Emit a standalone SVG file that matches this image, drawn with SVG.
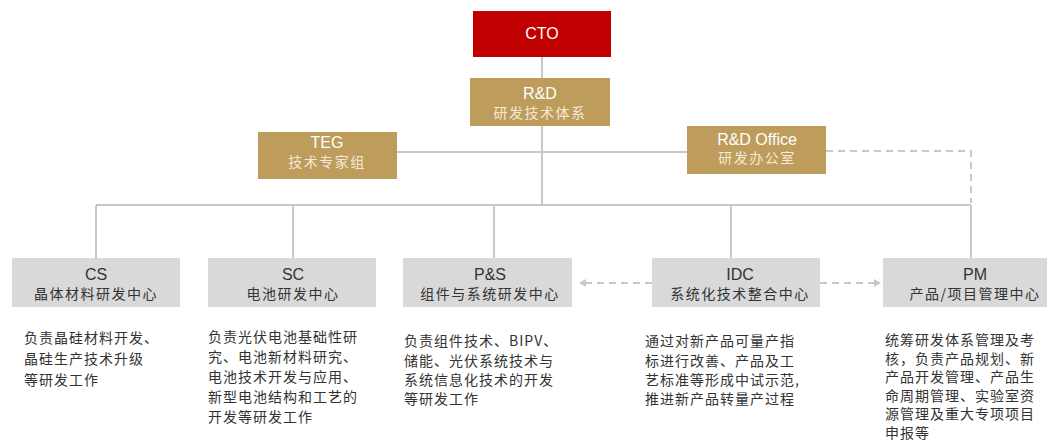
<svg xmlns="http://www.w3.org/2000/svg" width="1047" height="441" viewBox="0 0 1047 441">
<style>
.red{fill:#C00000}
.gold{fill:#BE9C5C}
.gray{fill:#D9D9D9}
.en{font-family:"Liberation Sans",Arial,sans-serif;font-size:16px;text-anchor:middle}
.zh{font-family:"Noto Sans CJK SC",sans-serif;font-size:14px;letter-spacing:1.5px;text-anchor:middle}
.w{fill:#FFFFFF}
.c{fill:#F3EAD6}
.d{fill:#333333}
.desc{font-family:"Noto Sans CJK SC",sans-serif;font-size:14px;letter-spacing:1px;fill:#333333}
.ln{stroke:#C8C8C8;stroke-width:2;fill:none}
.dash{stroke:#C8C8C8;stroke-width:2;fill:none;stroke-dasharray:7,5}
</style>
<defs>
<marker id="ah" markerWidth="8" markerHeight="8" refX="6" refY="4" orient="auto" markerUnits="userSpaceOnUse">
<path d="M0,0 L7,4 L0,8 Z" fill="#C8C8C8"/>
</marker>
</defs>
<rect width="1047" height="441" fill="#FFFFFF"/>
<g id="connectors">
<path class="ln" d="M542,57 V78"/>
<path class="ln" d="M542,126 V205"/>
<path class="ln" d="M397,152 H687"/>
<path class="ln" d="M96,205 H971"/>
<path class="ln" d="M96,205 V258"/>
<path class="ln" d="M293,205 V258"/>
<path class="ln" d="M494,205 V258"/>
<path class="ln" d="M731,205 V258"/>
<path class="ln" d="M971,205 V258"/>
<path class="dash" d="M826,151 H971 V203"/>
<path class="dash" d="M652,283 H580" marker-end="url(#ah)"/>
<path class="dash" d="M820,283 H880" marker-end="url(#ah)"/>
</g>
<g id="cto">
<rect class="red" x="473" y="11" width="138" height="46"/>
<text class="en w" x="542" y="39">CTO</text>
</g>
<g id="rd">
<rect class="gold" x="470" y="78" width="140" height="48"/>
<text class="en w" x="540" y="99">R&amp;D</text>
<text class="zh c" x="540" y="118">研发技术体系</text>
</g>
<g id="teg">
<rect class="gold" x="258" y="132" width="139" height="47"/>
<text class="en w" x="327" y="148">TEG</text>
<text class="zh c" x="327" y="167">技术专家组</text>
</g>
<g id="rdoffice">
<rect class="gold" x="687" y="126" width="139" height="48"/>
<text class="en w" x="757" y="145">R&amp;D Office</text>
<text class="zh c" x="757" y="163">研发办公室</text>
</g>
<g id="cs">
<rect class="gray" x="12" y="258" width="168" height="49"/>
<text class="en d" x="96" y="280">CS</text>
<text class="zh d" x="96" y="299">晶体材料研发中心</text>
</g>
<g id="sc">
<rect class="gray" x="208" y="258" width="168" height="49"/>
<text class="en d" x="293" y="280">SC</text>
<text class="zh d" x="293" y="299">电池研发中心</text>
</g>
<g id="ps">
<rect class="gray" x="403" y="258" width="169" height="49"/>
<text class="en d" x="490" y="280">P&amp;S</text>
<text class="zh d" x="490" y="299">组件与系统研发中心</text>
</g>
<g id="idc">
<rect class="gray" x="652" y="258" width="168" height="49"/>
<text class="en d" x="740" y="280">IDC</text>
<text class="zh d" x="740" y="299">系统化技术整合中心</text>
</g>
<g id="pm">
<rect class="gray" x="883" y="258" width="170" height="49"/>
<text class="en d" x="975" y="280">PM</text>
<text class="zh d" x="975" y="299">产品/项目管理中心</text>
</g>
<g id="desc-cs">
<text class="desc" x="24" y="343">负责晶硅材料开发、</text>
<text class="desc" x="24" y="364">晶硅生产技术升级</text>
<text class="desc" x="24" y="385">等研发工作</text>
</g>
<g id="desc-sc">
<text class="desc" x="208" y="342">负责光伏电池基础性研</text>
<text class="desc" x="208" y="362">究、电池新材料研究、</text>
<text class="desc" x="208" y="382">电池技术开发与应用、</text>
<text class="desc" x="208" y="402">新型电池结构和工艺的</text>
<text class="desc" x="208" y="422">开发等研发工作</text>
</g>
<g id="desc-ps">
<text class="desc" x="404" y="346">负责组件技术、BIPV、</text>
<text class="desc" x="404" y="366">储能、光伏系统技术与</text>
<text class="desc" x="404" y="385">系统信息化技术的开发</text>
<text class="desc" x="404" y="404">等研发工作</text>
</g>
<g id="desc-idc">
<text class="desc" x="645" y="346">通过对新产品可量产指</text>
<text class="desc" x="645" y="366">标进行改善、产品及工</text>
<text class="desc" x="645" y="385">艺标准等形成中试示范,</text>
<text class="desc" x="645" y="404">推进新产品转量产过程</text>
</g>
<g id="desc-pm">
<text class="desc" x="885" y="345">统筹研发体系管理及考</text>
<text class="desc" x="885" y="363.6">核，负责产品规划、新</text>
<text class="desc" x="885" y="382.2">产品开发管理、产品生</text>
<text class="desc" x="885" y="400.8">命周期管理、实验室资</text>
<text class="desc" x="885" y="419.4">源管理及重大专项项目</text>
<text class="desc" x="885" y="437.5">申报等</text>
</g>
</svg>
